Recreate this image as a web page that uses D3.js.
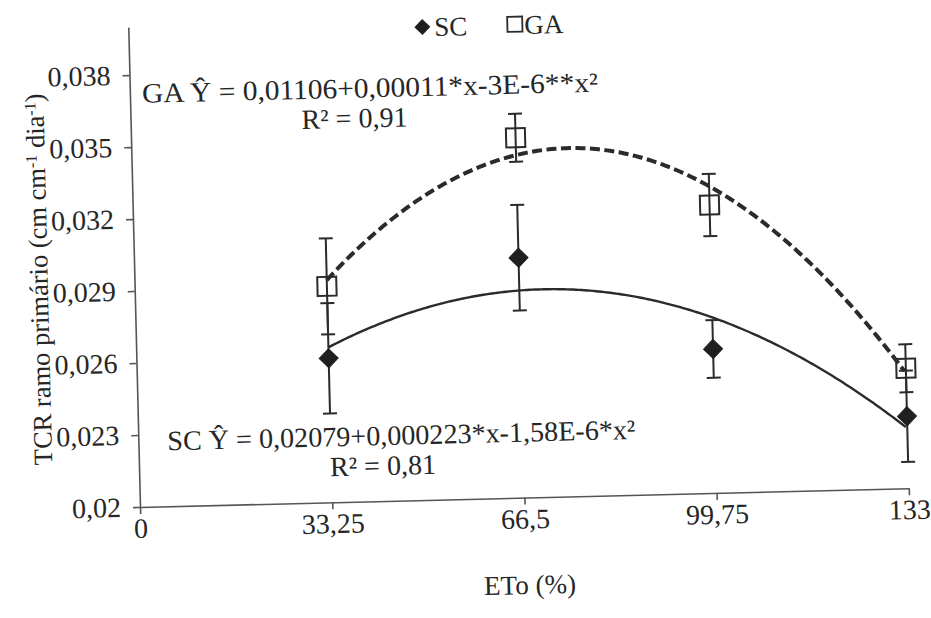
<!DOCTYPE html>
<html>
<head>
<meta charset="utf-8">
<script src="https://cdn.jsdelivr.net/npm/d3@7"></script>
<style>
  body { margin: 0; background: #fff; }
  svg { display: block; }
  svg text { font-family: "Liberation Serif", Tinos, "DejaVu Serif", serif; fill: #262626; }
</style>
</head>
<body>
<svg id="chart" width="931" height="618"></svg>
<script>
// ETo levels (% of reference evapotranspiration)
const etoLevels = [33.25, 66.5, 99.75, 133];

// Relative growth rate of the primary branch, means and error bars
const scMeans  = [0.0260, 0.0300, 0.0260, 0.0230];
const scErrors = [0.0023, 0.0022, 0.0012, 0.0019];
const gaMeans  = [0.0290, 0.0350, 0.0320, 0.0250];
const gaErrors = [0.0020, 0.0010, 0.0013, 0.0010];

// Quadratic trend coefficients [b0, b1, b2]
const scCoef = [0.02079, 0.000223, -1.58e-6];
const gaCoef = [0.01775, 0.000444, -2.94e-6];

// Axis ticks
const xTickValues = [0, 33.25, 66.5, 99.75, 133];
const xTickLabels = ["0", "33,25", "66,5", "99,75", "133"];
const yTickValues = [0.020, 0.023, 0.026, 0.029, 0.032, 0.035, 0.038];
const yTickLabels = ["0,02", "0,023", "0,026", "0,029", "0,032", "0,035", "0,038"];

// Equation annotations
const gaEquation = "GA Ŷ  = 0,01106+0,00011*x-3E-6**x²";
const gaR2 = "R² = 0,91";
const scEquation = "SC Ŷ  = 0,02079+0,000223*x-1,58E-6*x²";
const scR2 = "R² = 0,81";

const serif = '"Liberation Serif", Tinos, "DejaVu Serif", serif';
const ink = "#2b2b2b";
const width = 769, height = 480;
const originX = 140, originY = 507;

const svg = d3.select("#chart");
svg.append("rect").attr("width", 931).attr("height", 618).attr("fill", "#fff");

// whole figure sits slightly tilted
const g = svg.append("g")
  .attr("font-family", serif)
  .attr("transform", `translate(${originX},${originY}) rotate(-1.4) translate(0,${-height})`);

const x = d3.scaleLinear().domain([0, 133]).range([0, width]);
const y = d3.scaleLinear().domain([0.02, 0.04]).range([height, 0]);

// Axes
const yAxis = d3.axisLeft(y)
  .tickValues(yTickValues)
  .tickFormat((d, i) => yTickLabels[i])
  .tickSize(7).tickSizeOuter(0).tickPadding(12);
const xAxis = d3.axisBottom(x)
  .tickValues(xTickValues)
  .tickFormat((d, i) => xTickLabels[i])
  .tickSize(7).tickSizeOuter(0).tickPadding(4);

function styleAxis(sel) {
  sel.attr("font-family", serif);
  sel.select(".domain").attr("stroke", "#555").attr("stroke-width", 1.6);
  sel.selectAll(".tick line").attr("stroke", "#555").attr("stroke-width", 1.6);
  sel.selectAll(".tick text").attr("font-size", 28).attr("fill", "#262626");
}

g.append("g").call(yAxis).call(styleAxis);
g.append("g").attr("transform", `translate(0,${height})`).call(xAxis).call(styleAxis);

// Axis titles
const yTitle = g.append("text")
  .attr("transform", `translate(-96,250) rotate(-90)`)
  .attr("text-anchor", "middle")
  .attr("dy", "0.35em")
  .attr("font-size", 26.5);
yTitle.append("tspan").text("TCR ramo primário (cm cm");
yTitle.append("tspan").attr("baseline-shift", "super").attr("font-size", 16).text("-1");
yTitle.append("tspan").text(" dia");
yTitle.append("tspan").attr("baseline-shift", "super").attr("font-size", 16).text("-1");
yTitle.append("tspan").text(")");

g.append("text")
  .attr("x", 388).attr("y", 567)
  .attr("text-anchor", "middle").attr("dy", "0.35em")
  .attr("font-size", 27)
  .text("ETo (%)");

// Trend curves
const curveXs = d3.range(etoLevels[0], etoLevels[etoLevels.length - 1] + 0.01, 0.5);
const quad = c => v => c[0] + c[1] * v + c[2] * v * v;
const line = d3.line().x(d => x(d[0])).y(d => y(d[1]));

g.append("path")
  .datum(curveXs.map(v => [v, quad(gaCoef)(v)]))
  .attr("d", line)
  .attr("fill", "none").attr("stroke", ink)
  .attr("stroke-width", 4).attr("stroke-dasharray", "10,4.5");

g.append("path")
  .datum(curveXs.map(v => [v, quad(scCoef)(v)]))
  .attr("d", line)
  .attr("fill", "none").attr("stroke", ink)
  .attr("stroke-width", 2.4);

// Error bars
function errorBars(means, errs) {
  const eb = g.append("g").attr("stroke", ink).attr("stroke-width", 2);
  etoLevels.forEach((lv, i) => {
    const cx = x(lv), top = y(means[i] + errs[i]), bot = y(means[i] - errs[i]);
    eb.append("line").attr("x1", cx).attr("x2", cx).attr("y1", top).attr("y2", bot);
    eb.append("line").attr("x1", cx - 7).attr("x2", cx + 7).attr("y1", top).attr("y2", top);
    eb.append("line").attr("x1", cx - 7).attr("x2", cx + 7).attr("y1", bot).attr("y2", bot);
  });
}
errorBars(scMeans, scErrors);
errorBars(gaMeans, gaErrors);

// Markers
const diamond = "M0,-9.5L9.5,0L0,9.5L-9.5,0Z";
g.append("g").selectAll("path")
  .data(etoLevels.map((lv, i) => [lv, scMeans[i]]))
  .join("path")
  .attr("transform", d => `translate(${x(d[0])},${y(d[1])})`)
  .attr("d", diamond)
  .attr("fill", "#1f1f1f").attr("stroke", "#1f1f1f").attr("stroke-width", 1);

g.append("g").selectAll("rect")
  .data(etoLevels.map((lv, i) => [lv, gaMeans[i]]))
  .join("rect")
  .attr("x", d => x(d[0]) - 9.5).attr("y", d => y(d[1]) - 9.5)
  .attr("width", 19).attr("height", 19)
  .attr("fill", "none").attr("stroke", ink).attr("stroke-width", 2);

// Legend
const legend = g.append("g").attr("transform", "translate(294,7)");
legend.append("path").attr("d", "M0,-8L8,0L0,8L-8,0Z").attr("fill", "#1f1f1f");
legend.append("text").attr("x", 12).attr("dy", "0.35em").attr("font-size", 27).text("SC");
legend.append("rect").attr("x", 85).attr("y", -8).attr("width", 15).attr("height", 15)
  .attr("fill", "none").attr("stroke", ink).attr("stroke-width", 1.8);
legend.append("text").attr("x", 102).attr("dy", "0.35em").attr("font-size", 27).text("GA");

// Regression equations
g.append("text").attr("x", 12).attr("y", 76).attr("font-size", 28)
  .attr("textLength", 456).attr("lengthAdjust", "spacingAndGlyphs").text(gaEquation);
g.append("text").attr("x", 171).attr("y", 106).attr("font-size", 28).text(gaR2);
g.append("text").attr("x", 29).attr("y", 424).attr("font-size", 28)
  .attr("textLength", 468).attr("lengthAdjust", "spacingAndGlyphs").text(scEquation);
g.append("text").attr("x", 191).attr("y", 454).attr("font-size", 28).text(scR2);
</script>
</body>
</html>
